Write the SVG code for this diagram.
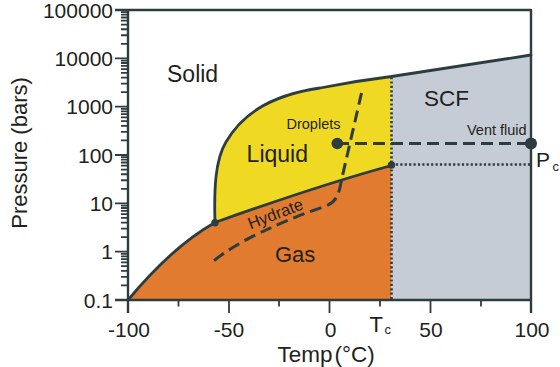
<svg xmlns="http://www.w3.org/2000/svg" width="560" height="367" viewBox="0 0 560 367">
<style>
.t{font-family:"Liberation Sans",Arial,sans-serif;fill:#231f20}
.bd{fill:none;stroke:#2d3c3f;stroke-width:2.8;stroke-linejoin:round;stroke-linecap:round}
.ax{fill:none;stroke:#2d3c3f;stroke-width:2.4;stroke-linejoin:round}
.tk{fill:none;stroke:#2d3c3f;stroke-width:1.8}
.dot{fill:none;stroke:#2d3c3f;stroke-width:2.6;stroke-dasharray:2.2 2.2}
.dash{fill:none;stroke:#2d3c3f;stroke-width:3;stroke-dasharray:12 6}
.pt{fill:#2d3c3f}
</style>
<rect width="560" height="367" fill="#ffffff"/>
<g id="regions">
<path id="gas" d="M128,300 Q173,246 215,222.5 Q320,185 391.5,165.5 L391.5,300 Z" fill="#e07b2f"/>
<path id="liquid" d="M215,222.5 C214,190 215,160 226,142 C240,118 265,96 320,88 Q355,81 391.5,76.5 L391.5,165.5 Q320,185 215,222.5 Z" fill="#efd923"/>
<path id="scf" d="M391.5,76.5 L531,55 L531,300 L391.5,300 Z" fill="#c6ccd5"/>
</g>
<g id="boundaries">
<path class="bd" d="M128,300 Q173,246 215,222.5 Q320,185 391.5,165.5"/>
<path class="bd" d="M215,222.5 C214,190 215,160 226,142 C240,118 265,96 320,88 Q355,81 391.5,76.5 L531,55"/>
<path class="dot" d="M391.5,77 V299"/>
<path class="dot" d="M391.5,164.5 H530"/>
</g>
<g id="axes">
<path class="ax" d="M115,10 H531 V313"/>
<path class="ax" d="M128,10 V313"/>
<path class="ax" d="M115,300 H531"/>
<path class="tk" d="M115,58.33h13M115,106.67h13M115,155h13M115,203.33h13M115,251.67h13"/>
<path class="tk" d="M121,285.45h7M121,276.94h7M121,270.9h7M121,266.22h7M121,262.39h7M121,259.16h7M121,256.35h7M121,253.89h7M121,237.12h7M121,228.61h7M121,222.57h7M121,217.89h7M121,214.06h7M121,210.83h7M121,208.02h7M121,205.56h7M121,188.78h7M121,180.27h7M121,174.23h7M121,169.55h7M121,165.72h7M121,162.49h7M121,159.68h7M121,157.22h7M121,140.45h7M121,131.94h7M121,125.9h7M121,121.22h7M121,117.39h7M121,114.16h7M121,111.35h7M121,108.89h7M121,92.12h7M121,83.61h7M121,77.57h7M121,72.89h7M121,69.06h7M121,65.83h7M121,63.02h7M121,60.56h7M121,43.78h7M121,35.27h7M121,29.23h7M121,24.55h7M121,20.72h7M121,17.49h7M121,14.68h7M121,12.22h7"/>
<path class="tk" d="M229,300v13M329.5,300v13M430.5,300v13M178.5,300v6.5M279,300v6.5M380,300v6.5M481,300v6.5"/>
</g>
<g id="paths">
<path class="dash" d="M361.5,93 L341.5,180 C339,195 336,202 326,206 C305,213 285,221 266,230 C250,237 226,250 210,264"/>
<path class="dash" d="M337,143.5 H531"/>
</g>
<g id="points">
<circle id="triple" class="pt" cx="215" cy="222.8" r="3.7"/>
<circle id="critical" class="pt" cx="391.5" cy="165" r="3.7"/>
<circle id="droplets" class="pt" cx="337.3" cy="143.5" r="5.8"/>
<circle id="vent" class="pt" cx="531" cy="143.5" r="6"/>
</g>
<g id="ylabels" class="t" font-size="21" text-anchor="end">
<text x="113" y="17.5">100000</text>
<text x="113" y="65.8">10000</text>
<text x="113" y="114.2">1000</text>
<text x="113" y="162.5">100</text>
<text x="113" y="210.8">10</text>
<text x="113" y="259.2">1</text>
<text x="113" y="307.5">0.1</text>
</g>
<g id="xlabels" class="t" font-size="21" text-anchor="middle">
<text x="129" y="337">-100</text>
<text x="229" y="337">-50</text>
<text x="330.5" y="337">0</text>
<text x="431" y="337">50</text>
<text x="532" y="337">100</text>
</g>
<g id="labels" class="t">
<text x="369.5" y="332" font-size="22">T<tspan x="384.5" y="333.5" font-size="13">c</tspan></text>
<text x="536" y="166.7" font-size="21">P<tspan x="552.5" y="170.5" font-size="13">c</tspan></text>
<text x="277.5" y="361.7" font-size="22.5">Temp<tspan dx="2">(°C)</tspan></text>
<text transform="translate(26.5,153) rotate(-90)" font-size="22" text-anchor="middle">Pressure (bars)</text>
<text x="167" y="81.5" font-size="23">Solid</text>
<text x="246.6" y="161.7" font-size="23">Liquid</text>
<text x="424" y="106" font-size="22.5">SCF</text>
<text x="275" y="262.3" font-size="22">Gas</text>
<text x="286.5" y="129.3" font-size="14.5">Droplets</text>
<text x="467" y="135" font-size="14.5">Vent fluid</text>
<text transform="translate(250.5,229.5) rotate(-21)" font-size="16.5">Hydrate</text>
</g>
</svg>
